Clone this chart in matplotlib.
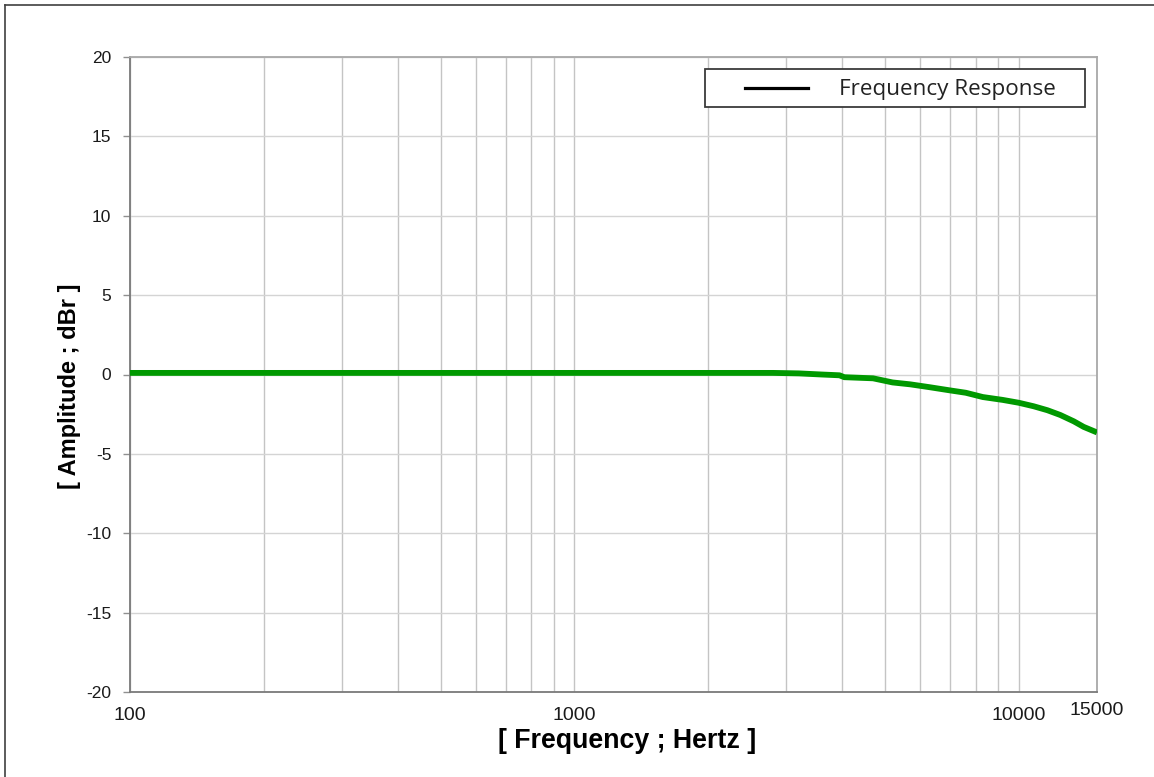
import matplotlib.pyplot as plt
from matplotlib.lines import Line2D
from matplotlib.patches import Rectangle
from matplotlib.ticker import FixedLocator, NullFormatter

plt.rcParams["axes.unicode_minus"] = False

# Frequency response readings (Hz, dBr)
freq_hz = [100, 500, 1000, 2000, 2800, 3200, 3600, 3950, 4050, 4700, 5200,
           5700, 6300, 7000, 7600, 8300, 9200, 10000, 10800, 11600, 12400,
           13300, 14000, 15000]
amp_dbr = [0.1, 0.1, 0.1, 0.1, 0.1, 0.07, 0.0, -0.05, -0.17, -0.24, -0.5,
           -0.62, -0.8, -1.0, -1.15, -1.42, -1.6, -1.78, -2.0, -2.25, -2.55,
           -2.95, -3.3, -3.65]

x_major = [100, 1000, 10000]
x_minor = [200, 300, 400, 500, 600, 700, 800, 900,
           2000, 3000, 4000, 5000, 6000, 7000, 8000, 9000]
y_ticks = [-20, -15, -10, -5, 0, 5, 10, 15, 20]
legend_label = "Frequency Response"

fig = plt.figure(figsize=(11.54, 7.77), dpi=100)
ax = fig.add_axes([130 / 1154, 85 / 777, 967 / 1154, 635 / 777])

ax.plot(freq_hz, amp_dbr, color="#009900", lw=4.2, solid_capstyle="butt", zorder=3)

ax.set_xscale("log")
ax.set_xlim(100, 15000)
ax.set_ylim(-20, 20)

ax.xaxis.set_major_locator(FixedLocator(x_major))
ax.xaxis.set_minor_locator(FixedLocator(x_minor))
ax.xaxis.set_minor_formatter(NullFormatter())
ax.set_xticklabels([str(v) for v in x_major])
ax.set_yticks(y_ticks)

ax.grid(True, which="both", axis="x", color="#c4c4c4", lw=1.0)
ax.grid(True, which="major", axis="y", color="#d4d4d4", lw=1.0)
ax.set_axisbelow(True)

ax.tick_params(axis="x", which="both", length=0, pad=10.5, labelsize=14, labelcolor="#1a1a1a")
ax.tick_params(axis="y", length=5, width=1, color="#909090", pad=8.4, labelsize=12.5,
               labelcolor="#1a1a1a")
for lab in ax.get_xticklabels() + ax.get_yticklabels():
    lab.set_fontfamily("Liberation Sans")

# 15000 label sits a bit higher than the others
ax.text(15000, -0.0165, "15000", transform=ax.get_xaxis_transform(), ha="center",
        va="top", fontsize=14, family="Liberation Sans", color="#1a1a1a")

for side in ["left", "bottom"]:
    ax.spines[side].set_color("#7a7a7a")
    ax.spines[side].set_linewidth(1.3)
for side in ["top", "right"]:
    ax.spines[side].set_color("#a8a8a8")
    ax.spines[side].set_linewidth(1.3)

ax.set_xlabel("[ Frequency ; Hertz ]", fontsize=19.3, fontweight="bold", family="Liberation Sans")
ax.xaxis.set_label_coords(0.5145, -0.057)
ax.set_ylabel("[ Amplitude ; dBr ]", fontsize=17, fontweight="bold", family="Liberation Sans")
ax.yaxis.set_label_coords(-0.051, 0.482)

# legend box drawn by hand (black key, wide left margin as in the original)
lx0, lx1 = (705 - 130) / 967, (1085 - 130) / 967
ly0, ly1 = (692 - 107) / 635, (692 - 69) / 635
ax.add_patch(Rectangle((lx0, ly0), lx1 - lx0, ly1 - ly0, transform=ax.transAxes,
                       facecolor="white", edgecolor="#3a3a3a", lw=1.3, zorder=5))
ly = (692 - 88) / 635
ax.add_line(Line2D([(745 - 130) / 967, (808 - 130) / 967], [ly, ly], transform=ax.transAxes,
                   color="black", lw=2.3, zorder=6))
ax.text((839 - 130) / 967, (692 - 89.5) / 635, legend_label, transform=ax.transAxes,
        ha="left", va="center", fontsize=16.2, family="Open Sans", color="#222222", zorder=6)

# outer frame of the original picture
fig.add_artist(Line2D([5 / 1154, 1], [1 - 5 / 777, 1 - 5 / 777], transform=fig.transFigure,
                      color="#404040", lw=1.2))
fig.add_artist(Line2D([5 / 1154, 5 / 1154], [0, 1 - 5 / 777], transform=fig.transFigure,
                      color="#404040", lw=1.2))

fig.savefig("out.png", dpi=100, facecolor="white")
